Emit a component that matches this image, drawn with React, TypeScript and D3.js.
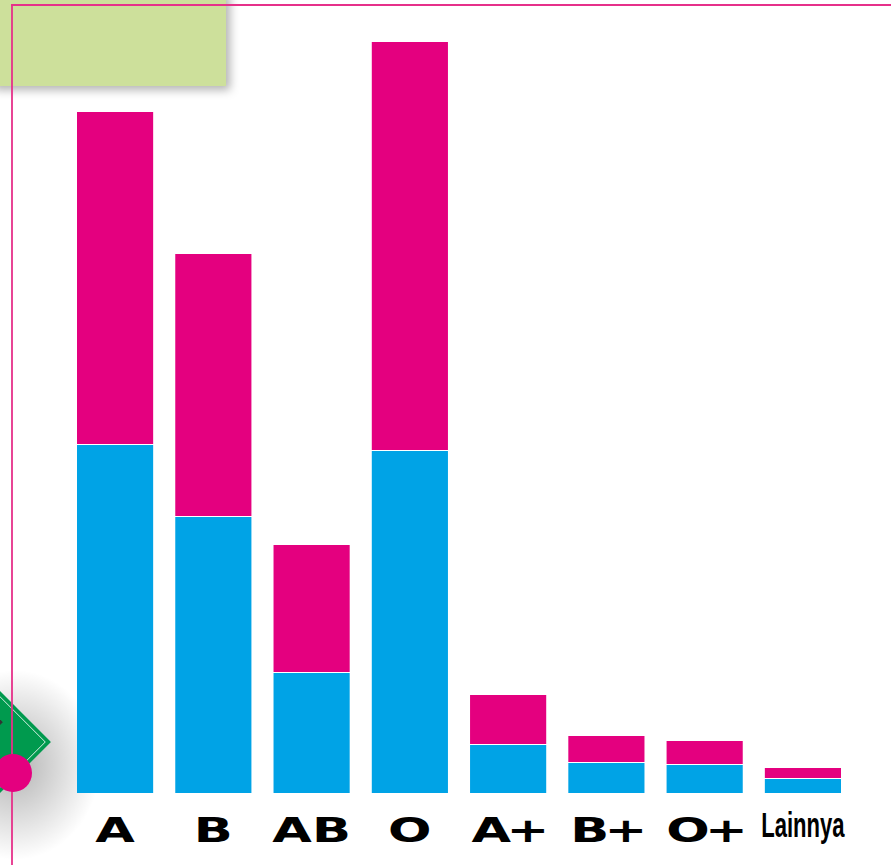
import React from 'react';
import { scaleBand, scaleLinear } from 'd3';

const categories = ['A', 'B', 'AB', 'O', 'A+', 'B+', 'O+', 'Lainnya'];
const blueValues = [348, 276, 120, 342, 48, 30, 28, 14];
const pinkValues = [333, 263, 128, 409, 50, 27, 24, 11];

const W = 891;
const H = 865;
const BLUE = '#00a3e6';
const PINK = '#e4007f';

const App = () => {
  const xScale = scaleBand<string>()
    .domain(categories)
    .range([77, 841])
    .paddingInner(0.225)
    .paddingOuter(0);

  const yScale = scaleLinear().domain([0, 751]).range([793, 42]);

  return (
    <svg
      width={W}
      height={H}
      style={{ position: 'absolute', left: 0, top: 0, background: '#fff' }}
    >
      <defs>
        <filter id="boxShadow" x="-20%" y="-40%" width="150%" height="200%">
          <feDropShadow dx="4" dy="4" stdDeviation="5" floodColor="#000" floodOpacity="0.3" />
        </filter>
        <radialGradient id="diamondShade" cx="0.5" cy="0.5" r="0.5">
          <stop offset="0%" stopColor="#000" stopOpacity="0.3" />
          <stop offset="100%" stopColor="#000" stopOpacity="0" />
        </radialGradient>
      </defs>

      {/* green header box */}
      <rect x={-10} y={-10} width={236} height={96} fill="#cde09b" filter="url(#boxShadow)" />

      {/* decoration bottom-left */}
      <ellipse cx={15} cy={765} rx={85} ry={95} fill="url(#diamondShade)" />
      <g transform="translate(0,742) rotate(45)">
        <rect x={-36} y={-36} width={72} height={72} fill="#009a4e" />
        <rect x={-32} y={-32} width={64} height={64} fill="none" stroke="#fff" strokeWidth={0.8} />
        <rect x={-40} y={-16} width={28} height={28} fill="#333" />
      </g>

      {/* frame lines */}
      <line x1={11} y1={5} x2={W} y2={5} stroke="#e6308a" strokeWidth={1.8} />
      <line x1={12} y1={5} x2={12} y2={H} stroke="#e6308a" strokeWidth={1.8} />
      <circle cx={13} cy={773} r={19} fill={PINK} />

      {/* bars */}
      {categories.map((c, i) => {
        const x = xScale(c) ?? 0;
        const bw = xScale.bandwidth();
        const yBlue = yScale(blueValues[i]);
        const yTotal = yScale(blueValues[i] + pinkValues[i]);
        return (
          <g key={c}>
            <rect x={x} y={yBlue} width={bw} height={yScale(0) - yBlue} fill={BLUE} />
            <rect x={x} y={yTotal} width={bw} height={yBlue - yTotal - 1} fill={PINK} />
          </g>
        );
      })}

      {/* category labels */}
      {categories.map((c) => {
        const cx = (xScale(c) ?? 0) + xScale.bandwidth() / 2;
        if (c === 'Lainnya') {
          return (
            <text
              key={c}
              transform={`translate(${cx},837) scale(0.63,1)`}
              textAnchor="middle"
              fontFamily="'Liberation Sans', Arial, sans-serif"
              fontWeight="bold"
              fontSize={35}
              fill="#000"
            >
              {c}
            </text>
          );
        }
        return (
          <text
            key={c}
            transform={`translate(${cx},842) scale(1.55,1)`}
            textAnchor="middle"
            fontFamily="'DejaVu Sans', sans-serif"
            fontWeight="bold"
            fontSize={33}
            letterSpacing={c.includes('+') ? -3 : 0}
            fill="#000"
          >
            {c}
          </text>
        );
      })}
    </svg>
  );
};

export default App;
